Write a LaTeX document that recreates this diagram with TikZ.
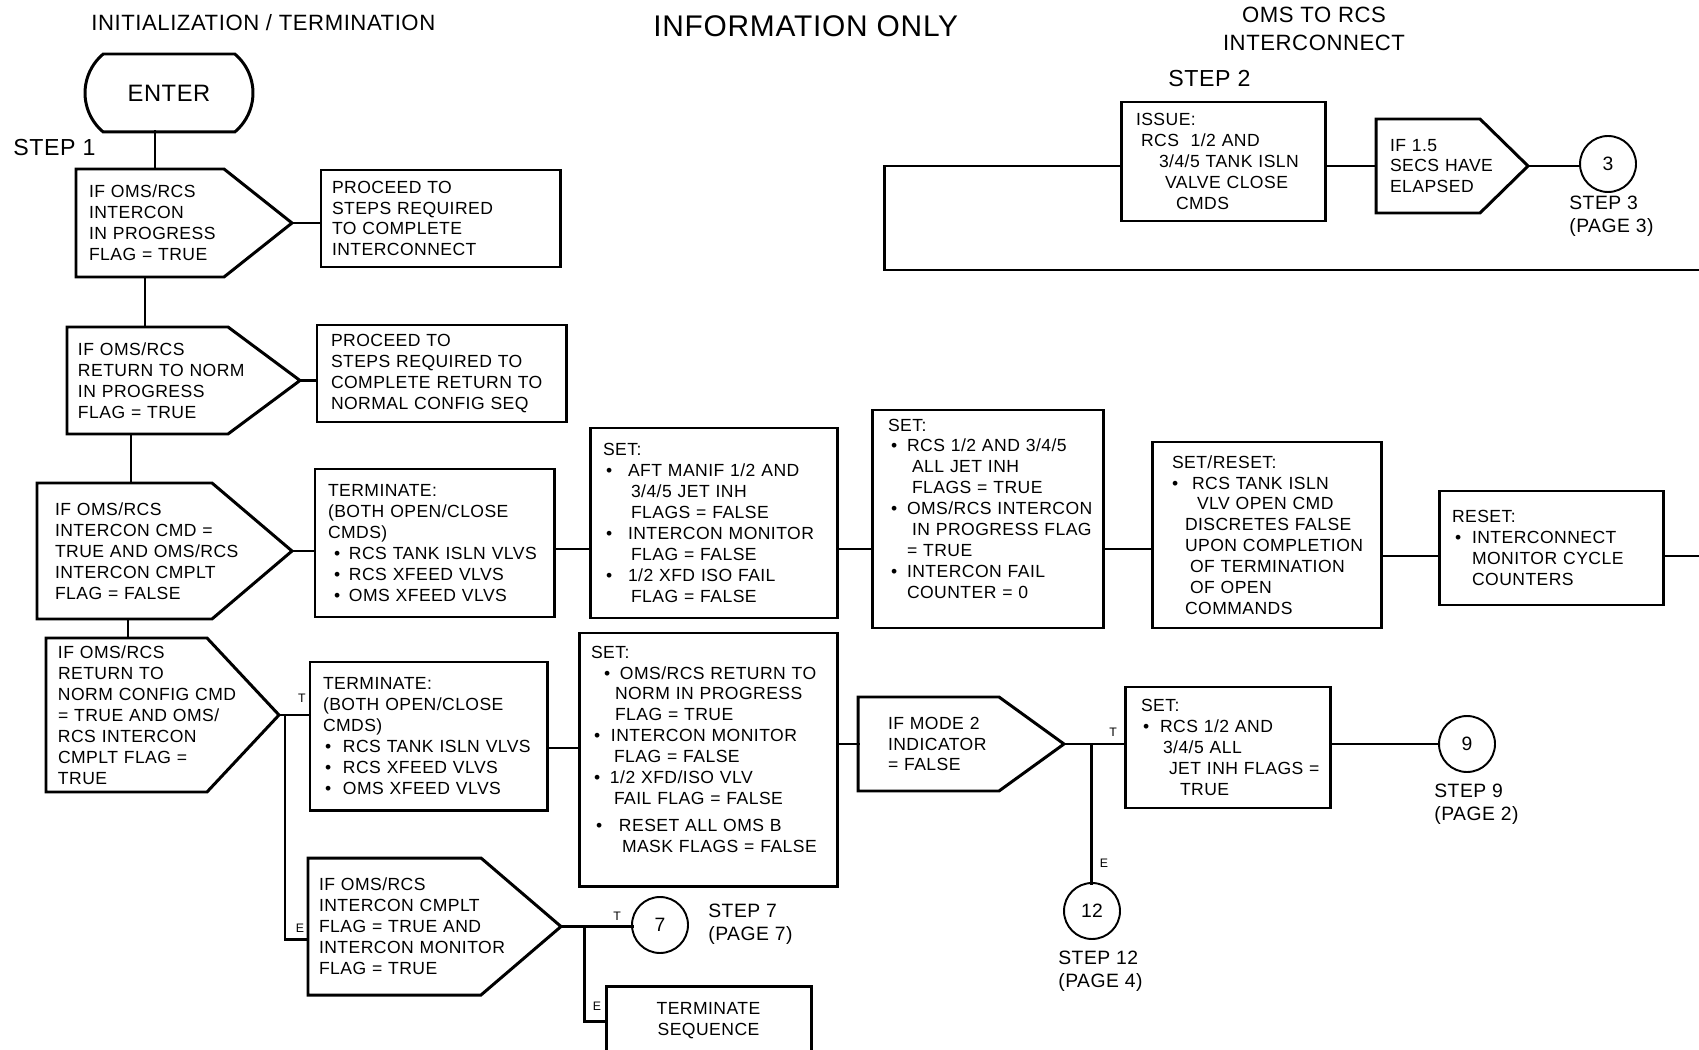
\documentclass[tikz,border=0pt]{standalone}
\usepackage{fontspec}
\setmainfont{Liberation Sans}[LetterSpace=2.5]
\usetikzlibrary{
  calc, % For anchor offsets
  shapes.misc % For the ENTER terminal
}

% Pixelmass der Vorlage
\newdimen\pxu \pxu=0.02cm
\newcommand\pad[1]{\leftskip=#1\pxu\relax\rightskip=-40pt plus 1fil\relax}
\newcommand\ind[1]{\hspace*{#1\pxu}}
\newcommand\bl[2]{\makebox[0pt][l]{\ind{#1}•}\ind{#2}}
\newcommand\bodyfont{\fontsize{10}{11.9}\selectfont}

% Entscheidungs-Umriss: Knoten, Spitzenlaenge
\newcommand\decout[2]{%
  \draw[thk] (#1.north west) -- ($(#1.north east)+(-#2,0)$) -- (#1.east)
    -- ($(#1.south east)+(-#2,0)$) -- (#1.south west) -- cycle;}

\begin{document}
\begin{tikzpicture}[
    x=0.02cm, y=-0.02cm, % Pixel der Vorlage, y nach unten
    thk/.style={line width=1.7pt}, % Kastenlinien
    thn/.style={line width=1.1pt}, % Kreise
    conn/.style={thk, line cap=rect},
    box/.style={draw, thk, inner sep=0pt, outer sep=0pt, align=left, font=\bodyfont},
    dec/.style={box, draw=none},
    sz/.code 2 args={\pgfmathsetlengthmacro\bxw{#1*0.02cm}\pgfmathsetlengthmacro\bxh{#2*0.02cm}%
      \edef\bxset{\noexpand\tikzset{text width=\bxw, minimum height=\bxh}}\bxset},
    term/.style={rounded rectangle, rounded rectangle arc length=100, draw, thk,
      inner sep=0pt, outer sep=0pt, minimum width=3.36cm, minimum height=1.56cm,
      font=\fontsize{13.5}{16}\selectfont},
    circ/.style={circle, draw, thn, inner sep=0pt, outer sep=0pt, minimum size=1.12cm,
      font=\fontsize{11}{13}\selectfont},
    stepn/.style={anchor=west, align=left, inner sep=0pt, font=\fontsize{11}{13.2}\selectfont},
    stepb/.style={anchor=west, inner sep=0pt, font=\fontsize{13.2}{16}\selectfont},
    ttl/.style={inner sep=0pt, font=\fontsize{12.6}{15.9}\selectfont},
    flag/.style={inner sep=0pt, font=\fontsize{7}{8}\selectfont},
  ]
  \useasboundingbox (0,0) rectangle (1699,1050);

  % Ueberschriften
  \node[ttl, anchor=west] (tInit) at (91,23) {INITIALIZATION / TERMINATION};
  \node[anchor=west, inner sep=0pt, font=\fontsize{17}{20}\selectfont] (tInfo) at (653,26) {INFORMATION ONLY};
  \node[ttl, align=center] (tOms) at (1314,29) {OMS TO RCS\\INTERCONNECT};
  \node[stepb] (s1) at (13,148) {STEP 1};
  \node[stepb] (s2) at (1168,79) {STEP 2};

  % Start
  \node[term] (enter) at (169,93) {ENTER};

  % Entscheidungen
  \node[dec, sz={216}{108}] (dec1) at (184,223)
    {\pad{13}IF OMS/RCS\\INTERCON\\IN PROGRESS\\FLAG = TRUE\par};
  \node[dec, sz={233}{107}] (dec2) at (183.5,380.5)
    {\pad{11}IF OMS/RCS\\RETURN TO NORM\\IN PROGRESS\\FLAG = TRUE\par};
  \node[dec, sz={255}{136}] (dec3) at (164.5,551)
    {\pad{18}IF OMS/RCS\\INTERCON CMD =\\TRUE AND OMS/RCS\\INTERCON CMPLT\\FLAG = FALSE\par};
  \node[dec, sz={233}{154}] (dec4) at (162.5,715)
    {\pad{12}IF OMS/RCS\\RETURN TO\\NORM CONFIG CMD\\= TRUE AND OMS/\\RCS INTERCON\\CMPLT FLAG =\\TRUE\par};
  \node[dec, sz={253}{137}] (dec5) at (434.5,926.5)
    {\pad{11}IF OMS/RCS\\INTERCON CMPLT\\FLAG = TRUE AND\\INTERCON MONITOR\\FLAG = TRUE\par};
  \node[dec, sz={152}{94}] (dec6) at (1452,166)
    {\pad{14}IF 1.5\\SECS HAVE\\ELAPSED\par};
  \node[dec, sz={206}{94}] (dec7) at (961,744)
    {\pad{30}IF MODE 2\\INDICATOR\\= FALSE\par};
  \decout{dec1}{68}
  \decout{dec2}{72}
  \decout{dec3}{80}
  \decout{dec4}{72}
  \decout{dec5}{80}
  \decout{dec6}{48}
  \decout{dec7}{65}

  % Kaesten
  \node[box, sz={239}{97}] (box1) at (440.5,218.5)
    {\pad{11}PROCEED TO\\STEPS REQUIRED\\TO COMPLETE\\INTERCONNECT\par};
  \node[box, sz={249}{97}] (box2) at (441.5,373.5)
    {\pad{14}PROCEED TO\\STEPS REQUIRED TO\\COMPLETE RETURN TO\\NORMAL CONFIG SEQ\par};
  \node[box, sz={239}{148}] (box3) at (434.5,543)
    {\pad{13}TERMINATE:\\(BOTH OPEN/CLOSE\\CMDS)\\\bl{6}{21}RCS TANK ISLN VLVS\\\bl{6}{21}RCS XFEED VLVS\\\bl{6}{21}OMS XFEED VLVS\par};
  \node[box, sz={237}{148}] (box4) at (428.5,736)
    {\pad{13}TERMINATE:\\(BOTH OPEN/CLOSE\\CMDS)\\\bl{2}{20}RCS TANK ISLN VLVS\\\bl{2}{20}RCS XFEED VLVS\\\bl{2}{20}OMS XFEED VLVS\par};
  \node[box, sz={247}{190}] (boxA) at (713.5,523)
    {\pad{13}SET:\\\bl{3}{25}AFT MANIF 1/2 AND\\\ind{28}3/4/5 JET INH\\\ind{28}FLAGS = FALSE\\
     \bl{3}{25}INTERCON MONITOR\\\ind{28}FLAG = FALSE\\\bl{3}{25}1/2 XFD ISO FAIL\\\ind{28}FLAG = FALSE\par};
  \node[box, sz={231}{218}] (boxB) at (987.5,519)
    {\pad{16}SET:\\\bl{3}{19}RCS 1/2 AND 3/4/5\\\ind{24}ALL JET INH\\\ind{24}FLAGS = TRUE\\
     \bl{3}{19}OMS/RCS INTERCON\\\ind{24}IN PROGRESS FLAG\\\ind{19}= TRUE\\
     \bl{3}{19}INTERCON FAIL\\\ind{19}COUNTER = 0\\\mbox{}\par};
  \node[box, sz={229}{186}] (boxD) at (1266.5,535)
    {\pad{20}SET/RESET:\\\bl{0}{20}RCS TANK ISLN\\\ind{25}VLV OPEN CMD\\\ind{13}DISCRETES FALSE\\
     \ind{13}UPON COMPLETION\\\ind{18}OF TERMINATION\\\ind{18}OF OPEN\\\ind{13}COMMANDS\par};
  \node[box, sz={224}{114}] (boxE) at (1551,548)
    {\pad{13}RESET:\\\bl{3}{20}INTERCONNECT\\\ind{20}MONITOR CYCLE\\\ind{20}COUNTERS\par};
  \node[box, sz={204}{119}] (boxF) at (1223,161.5)
    {\pad{15}ISSUE:\\\ind{5}RCS\ \ 1/2 AND\\\ind{23}3/4/5 TANK ISLN\\\ind{29}VALVE CLOSE\\\ind{40}CMDS\par};
  \node[box, sz={205}{121}] (boxG) at (1227.5,747.5)
    {\pad{16}SET:\\\bl{2}{19}RCS 1/2 AND\\\ind{22}3/4/5 ALL\\\ind{28}JET INH FLAGS =\\\ind{39}TRUE\par};
  \node[box, sz={258}{253}] (boxC) at (708,759.5)
    {\pad{12}SET:\\\bl{13}{29}OMS/RCS RETURN TO\\\ind{24}NORM IN PROGRESS\\\ind{24}FLAG = TRUE\\
     \bl{3}{20}INTERCON MONITOR\\\ind{23}FLAG = FALSE\\\bl{3}{19}1/2 XFD/ISO VLV\\\ind{23}FAIL FLAG = FALSE\\[6\pxu]
     \bl{5}{28}RESET ALL OMS B\\\ind{31}MASK FLAGS = FALSE\\\mbox{}\par};
  \node[box, align=center, sz={205}{70}] (term) at (708.5,1021) {TERMINATE\\SEQUENCE};

  % Anschlusskreise
  \foreach \nm/\x/\y/\t in {c3/1608/164/3, c7/660/925/7, c9/1467/744/9, c12/1092/911/12}
    \node[circ] (\nm) at (\x,\y) {\t};
  \node[stepn] (st3) at (1569,216) {STEP 3\\(PAGE 3)};
  \node[stepn] (st7) at (708,924) {STEP 7\\(PAGE 7)};
  \node[stepn] (st9) at (1434,804) {STEP 9\\(PAGE 2)};
  \node[stepn] (st12) at (1058,971) {STEP 12\\(PAGE 4)};

  % T/E Marken
  \foreach \nm/\x/\y/\t in {fT4/302/698/T, fE4/300/928/E, fT5/617/916/T, fE5/597/1006/E,
      fT7/1113/732/T, fE7/1104/863/E}
    \node[flag] (\nm) at (\x,\y) {\t};

  % Hilfspunkte
  \coordinate (j0) at ($(enter.south)+(-14,0)$);
  \coordinate (j1) at ($(dec1.south west)+(69,0)$);
  \coordinate (j2) at ($(dec2.south west)+(64,0)$);
  \coordinate (j3) at ($(dec3.south west)+(91,0)$);
  \coordinate (br4) at ($(dec4.east)+(6,0)$);
  \coordinate (e5) at ($(dec5.west)+(0,13)$);
  \coordinate (br5) at ($(dec5.east)+(23,0)$);
  \coordinate (br7) at ($(dec7.east)+(27,0)$);
  \coordinate (k4) at ($(box4.east)+(0,12)$);
  \coordinate (rowSet) at (0,549);
  \coordinate (edgeR) at (1699,556);
  \coordinate (loopC) at (884,270);
  \coordinate (loopE) at (1699,270);

  % Verbindungen links
  \draw[conn] (j0) -- (j0 |- dec1.north);
  \draw[conn] (j1) -- (j1 |- dec2.north);
  \draw[conn] (j2) -- (j2 |- dec3.north);
  \draw[conn] (j3) -- (j3 |- dec4.north);
  \draw[conn] (dec1.east) -- (dec1.east -| box1.west);
  \draw[conn] (dec2.east) -- (dec2.east -| box2.west);
  \draw[conn] (dec3.east) -- (dec3.east -| box3.west);
  \draw[conn] (dec4.east) -- (dec4.east -| box4.west);
  \draw[conn] (br4) |- (e5);
  \draw[conn] (dec5.east) -- (dec5.east -| c7.west);
  \draw[conn] (br5) |- (term.west);

  % Mittlere Reihen
  \draw[conn] (box3.east |- rowSet) -- (boxA.west |- rowSet);
  \draw[conn] (boxA.east |- rowSet) -- (boxB.west |- rowSet);
  \draw[conn] (boxB.east |- rowSet) -- (boxD.west |- rowSet);
  \draw[conn] (boxD.east |- edgeR) -- (boxE.west |- edgeR);
  \draw[conn] (boxE.east |- edgeR) -- (edgeR);
  \draw[conn] (k4) -- (k4 -| boxC.west);
  \draw[conn] (dec7.west) -- (dec7.west -| boxC.east);
  \draw[conn] (dec7.east) -- (dec7.east -| boxG.west);
  \draw[conn] (br7) -- (br7 |- c12.north);
  \draw[thn] (c9.west) -- (c9.west -| boxG.east);

  % Oben rechts
  \draw[conn] (boxF.west |- dec6.west) -| (loopC) -- (loopE);
  \draw[thn] (dec6.west) -- (dec6.west -| boxF.east);
  \draw[thn] (dec6.east) -- (dec6.east -| c3.west);
\end{tikzpicture}
\end{document}
